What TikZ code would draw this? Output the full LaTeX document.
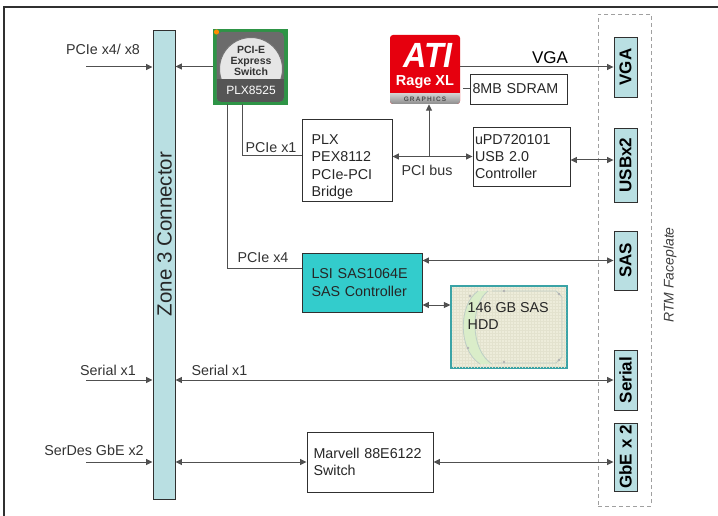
\documentclass[tikz,border=0pt]{standalone}
\usepackage{fontspec}
\setmainfont{Liberation Sans}
\newfontfamily\atispaced[LetterSpace=18]{Liberation Sans}
\usetikzlibrary{arrows.meta}
\definecolor{connfill}{HTML}{B9DFE2}
\definecolor{lsifill}{HTML}{33CCCC}
\definecolor{linec}{HTML}{505050}
\definecolor{boxc}{HTML}{303030}
\definecolor{swgreen}{HTML}{2E9446}
\definecolor{swgray}{HTML}{6B6B6B}
\definecolor{swstrip}{HTML}{555555}
\definecolor{domec}{HTML}{E6E6E6}
\definecolor{atired}{HTML}{E6000E}
\definecolor{hddfill}{HTML}{EDECDA}
\definecolor{hddedge}{HTML}{3AA3A6}
\definecolor{hddgrid}{HTML}{E3E2CE}
\definecolor{hddline}{HTML}{BFCDC6}
\definecolor{dashc}{HTML}{A0A0A0}
\newcommand\lblfont{\fontsize{14.3}{17.3}\selectfont}
\begin{document}
\begin{tikzpicture}[x=1pt,y=-1pt,
  ln/.style={draw=linec, line width=1pt},
  tip/.style={ln, -{Triangle[length=6.5pt,width=6pt]}},
  dtip/.style={ln, {Triangle[length=6.5pt,width=6pt]}-{Triangle[length=6.5pt,width=6pt]}},
  box/.style={draw=boxc, line width=0.9pt, fill=white, inner sep=0pt, align=left, font=\lblfont, text=black!85},
  lbl/.style={inner sep=0pt, font=\lblfont, text=black!80},
  port/.style={draw=boxc, line width=0.9pt, fill=connfill, inner sep=0pt, rotate=90, minimum height=23pt, font=\fontsize{17}{17}\selectfont\bfseries},
]
\useasboundingbox (0,0) rectangle (718,516);
\fill[white] (0,0) rectangle (718,516);
% outer frame
\draw[boxc, line width=1.3pt] (4,530) -- (4,7) -- (730,7);

% Zone 3 connector
\node[draw=boxc, line width=0.9pt, fill=connfill, minimum width=22pt, minimum height=469pt, inner sep=0pt] (z3) at (164,264.5) {};
\node[rotate=90, inner sep=0pt, font=\fontsize{20.5}{20.5}\selectfont, text=black!85] (z3t) at (164.5,234) {Zone 3 Connector};

% RTM faceplate
\node[draw=dashc, dashed, dash pattern=on 4pt off 3pt, line width=0.9pt, minimum width=53pt, minimum height=492pt, inner sep=0pt] (face) at (624.5,260) {};
\node[rotate=90, inner sep=0pt, font=\fontsize{14}{14}\selectfont\itshape, text=black!75] (facet) at (670,275) {RTM Faceplate};

% ports
\node[port, minimum width=60pt] (vga) at (625.5,67) {VGA};
\node[port, minimum width=74pt] (usbx) at (625.5,165) {USBx2};
\node[port, minimum width=59pt] (sas) at (625.5,260.5) {SAS};
\node[port, minimum width=60pt] (ser) at (625.5,380) {Serial};
\node[port, minimum width=68pt] (gbe) at (625.5,457) {GbE x 2};

% PLX switch icon
\node[draw=swgreen, fill=swgreen, line width=0.6pt, minimum width=74pt, minimum height=75pt, inner sep=0pt] (sw) at (250,66.5) {};
\fill[swgray, rounded corners=5pt] (216.5,32) rectangle (284,102);
\begin{scope}
  \clip (216.5,32) rectangle (284,79);
  \filldraw[fill=domec, draw=black!55, line width=1pt] (251,69) circle (31.5);
\end{scope}
\begin{scope}
  \clip[rounded corners=5pt] (216.5,32) rectangle (284,102);
  \fill[swstrip] (216.5,79) rectangle (284,102);
\end{scope}
\node[inner sep=0pt, align=center, font=\fontsize{10.5}{11}\selectfont\bfseries, text=black!80] (swt) at (251,61) {PCI-E\\Express\\Switch};
\node[inner sep=0pt, font=\fontsize{12}{12}\selectfont, text=white] (swn) at (251,90.5) {PLX8525};
\fill[orange!90!yellow] (216.5,32) circle (2.6);

% ATI logo
\node[fill=atired, rounded corners=3pt, minimum width=70pt, minimum height=69pt, inner sep=0pt] (ati) at (425,69.5) {};
\begin{scope}
  \clip[rounded corners=3pt] (390,35) rectangle (460,104);
  \shade[top color=black!18, bottom color=black!45] (390,93.5) rectangle (460,104);
\end{scope}
\node[inner sep=0pt, text depth=0pt, text=white, font=\fontsize{35}{35}\selectfont\bfseries\itshape, xscale=0.92, transform shape] (atit) at (428,55) {ATI};
\node[inner sep=0pt, text=white, font=\fontsize{14.5}{14.5}\selectfont\bfseries] (atir) at (425,82) {Rage XL};
\node[inner sep=0pt, text=black!70, font=\fontsize{6.5}{6.5}\atispaced\bfseries] (atig) at (425,99) {GRAPHICS};

% boxes
\node[box, minimum width=90pt, minimum height=82pt] (plx) at (347,160) {};
\node[lbl, anchor=north west, align=left, text=black!85] (plxt) at (311.5,134.5) {PLX\\PEX8112\\PCIe-PCI\\Bridge};
\node[box, minimum width=97pt, minimum height=30pt, text width=92pt] (sdram) at (518.5,89) {8MB SDRAM};
\node[box, minimum width=97pt, minimum height=59pt, text width=93pt] (usb) at (521.5,156.5) {uPD720101\\USB 2.0\\Controller};
\node[box, fill=lsifill, minimum width=120pt, minimum height=59pt, text width=101pt] (lsi) at (362,282.5) {LSI SAS1064E\\SAS Controller};
\node[box, minimum width=126pt, minimum height=60pt, text width=113pt] (mv) at (370,462) {Marvell 88E6122\\Switch};

% HDD
\node[fill=hddfill, draw=hddedge, line width=1.2pt, minimum width=116pt, minimum height=82pt, inner sep=0pt] (hdd) at (509,327) {};
\begin{scope}
  \clip (452,287) rectangle (566,367);
  \draw[hddgrid, line width=0.3pt, step=3pt] (451,286) grid (567,368);
  \fill[green!8!hddfill] (478,291) .. controls (458,305) and (458,350) .. (480,364) -- (492,364) .. controls (472,350) and (470,305) .. (488,291) -- cycle;
  \draw[hddline, line width=0.8pt] (478,291) .. controls (458,305) and (458,350) .. (480,364);
  \draw[hddline, line width=0.8pt] (488,291) .. controls (470,305) and (470,350) .. (492,364);
  \draw[hddline, line width=0.8pt] (492,291) -- (556,291) -- (562,297) -- (562,357) -- (556,363) -- (494,363);
  \foreach \p in {(559,294),(559,360),(504,362),(504,291),(470,296),(468,348)} \fill[black!30] \p circle (1.4);
\end{scope}
\node[lbl, anchor=north west, align=left, text=black!85] (hddt) at (467.5,302) {146 GB SAS\\HDD};

% labels
\node[lbl] (l1) at (103,49) {PCIe x4/ x8};
\node[lbl] (l2) at (108,370) {Serial x1};
\node[lbl] (l3) at (94,450) {SerDes GbE x2};
\node[lbl] (l4) at (219.5,370) {Serial x1};
\node[lbl] (l5) at (271,148) {PCIe x1};
\node[lbl] (l6) at (263,258) {PCIe x4};
\node[lbl] (l7) at (427,170) {PCI bus};
\node[inner sep=0pt, font=\fontsize{17}{17}\selectfont] (l8) at (550,58) {VGA};

% connectors
\coordinate (in1) at (86,67);
\coordinate (in2) at (86,380);
\coordinate (in3) at (86,462);
\draw[tip] (in1) -- (in1 -| z3.west);
\draw[tip] (in2) -- (in2 -| z3.west);
\draw[tip] (in3) -- (in3 -| z3.west);
\draw[tip] (sw.west) -- (sw.west -| z3.east);
\draw[ln] ([xshift=-23pt]sw.south) |- ([yshift=14.5pt]lsi.west);
\draw[ln] ([xshift=-8pt]sw.south) |- ([yshift=4pt]plx.west);
\draw[dtip] (plx.east |- usb.west) -- (usb.west);
\coordinate (pcib) at (429,156.5);
\draw[tip] (pcib) -- (pcib |- ati.south);
\draw[tip] (vga.north -| ati.east) -- (vga.north);
\draw[ln] (sdram.west) -- ([xshift=3pt]sdram.west -| ati.east);
\draw[dtip] ([yshift=-3.5pt]usb.east) -- ([yshift=-3.5pt]usb.east -| usbx.north);
\draw[dtip] (lsi.east |- sas.north) -- (sas.north);
\draw[dtip] ([yshift=-22.5pt]lsi.east) -- ([yshift=-22.5pt]lsi.east -| hdd.west);
\draw[dtip] (z3.east |- ser.north) -- (ser.north);
\draw[dtip] (z3.east |- mv.west) -- (mv.west);
\draw[dtip] (mv.east) -- (mv.east -| gbe.north);
\end{tikzpicture}
\end{document}
